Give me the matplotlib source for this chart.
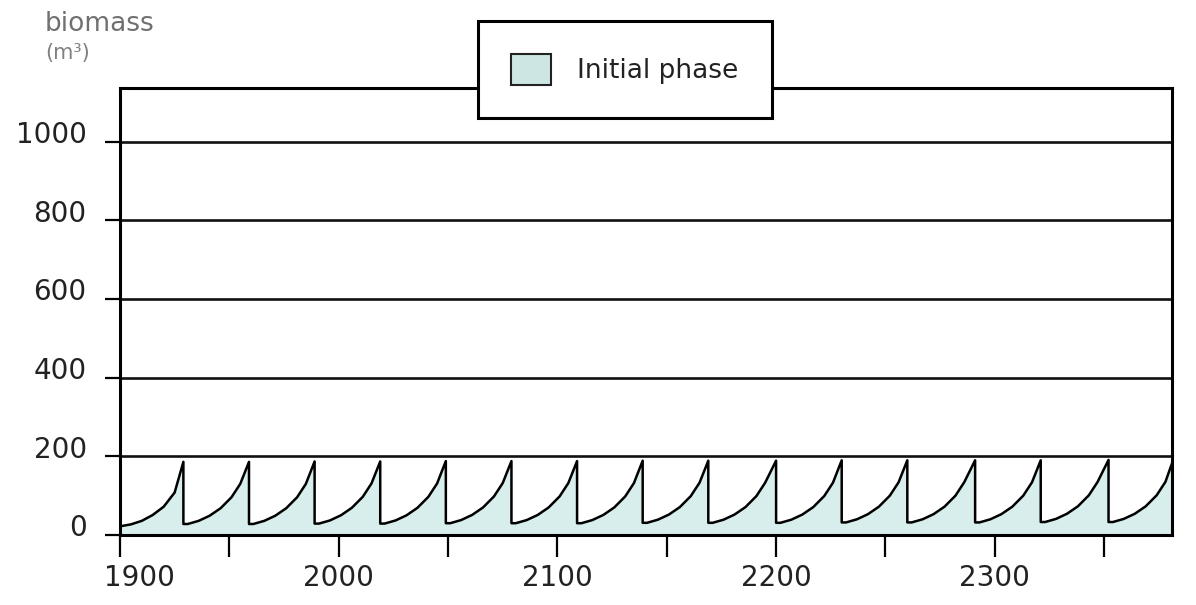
import numpy as np
import matplotlib.pyplot as plt
import matplotlib.transforms as mtransforms
from matplotlib.patches import Patch

# dados (anos e biomassa)--
anos = [1900, 1905, 1910, 1915, 1920, 1925, 1929,
        1929, 1931, 1936, 1941, 1946, 1951, 1955, 1959,
        1959, 1961, 1966, 1971, 1976, 1981, 1985, 1989,
        1989, 1991, 1996, 2001, 2006, 2011, 2015, 2019,
        2019, 2021, 2026, 2031, 2036, 2041, 2045, 2049,
        2049, 2051, 2056, 2061, 2066, 2071, 2075, 2079,
        2079, 2081, 2086, 2091, 2096, 2101, 2105, 2109,
        2109, 2111, 2116, 2121, 2126, 2131, 2135, 2139,
        2139, 2141, 2146, 2151, 2156, 2161, 2165, 2169,
        2169, 2171, 2176, 2181, 2186, 2191, 2195, 2200,
        2200, 2202, 2207, 2212, 2217, 2222, 2226, 2230,
        2230, 2232, 2237, 2242, 2247, 2252, 2256, 2260,
        2260, 2262, 2267, 2272, 2277, 2282, 2286, 2291,
        2291, 2293, 2298, 2303, 2308, 2313, 2317, 2321,
        2321, 2323, 2328, 2333, 2338, 2343, 2347, 2352,
        2352, 2354, 2359, 2364, 2369, 2374, 2378, 2381]

biomassa = [22, 27, 36, 51, 72, 108, 186,
            28, 28, 36, 49, 68, 96, 130, 186,
            28, 28, 36, 49, 68, 96, 130, 187,
            29, 29, 37, 50, 69, 97, 131, 187,
            29, 29, 37, 50, 69, 97, 131, 188,
            30, 30, 38, 51, 70, 98, 132, 188,
            30, 30, 38, 51, 70, 98, 132, 188,
            30, 30, 38, 51, 70, 98, 132, 189,
            31, 31, 39, 52, 71, 99, 133, 189,
            31, 31, 39, 52, 71, 99, 133, 189,
            31, 31, 39, 52, 71, 99, 133, 190,
            32, 32, 40, 53, 72, 100, 134, 190,
            32, 32, 40, 53, 72, 100, 134, 190,
            32, 32, 40, 53, 72, 100, 134, 190,
            33, 33, 41, 54, 73, 101, 135, 191,
            33, 33, 41, 54, 73, 101, 135, 182]

yticks = [0, 200, 400, 600, 800, 1000]
xticks = [1900, 2000, 2100, 2200, 2300]
xminor = [1950, 2050, 2150, 2250, 2350]

corFundo = '#d8eeec'
corTexto = '#222222'

# figura--
fig = plt.figure(figsize=(11.96, 6.05), dpi=100)
ax = fig.add_axes([0.1003, 0.1157, 0.8796, 0.739])

ax.fill_between(anos, biomassa, 0, color=corFundo, linewidth=0)
ax.plot(anos, biomassa, color='black', linewidth=1.8)

# linhas horizontais
for v in yticks[1:]:
    ax.axhline(v, color='#111111', linewidth=1.9, zorder=1)

ax.set_xlim(1900, 2381)
ax.set_ylim(0, 1137)

for s in ax.spines.values():
    s.set_linewidth(2.2)
    s.set_color('black')

ax.set_xticks(xticks)
ax.set_xticks(xminor, minor=True)
ax.set_yticks(yticks)
ax.tick_params(axis='x', which='both', direction='out', length=16, width=1.6,
               labelsize=20, pad=5, labelcolor=corTexto)
ax.tick_params(axis='y', direction='out', length=11, width=1.6,
               labelsize=20, pad=13, labelcolor=corTexto)

# labels do eixo y um pouco acima das marcas (como no original)
desloca = mtransforms.ScaledTranslation(0, 7 / 72, fig.dpi_scale_trans)
for lab in ax.get_yticklabels():
    lab.set_transform(lab.get_transform() + desloca)
desloca1900 = mtransforms.ScaledTranslation(14 / 72, 0, fig.dpi_scale_trans)
primeira = ax.get_xticklabels()[0]
primeira.set_transform(primeira.get_transform() + desloca1900)

# titulo do eixo y
fig.text(45 / 1196, 1 - 24 / 605, 'biomass', fontsize=19, color='#707070',
         ha='left', va='center')
fig.text(45 / 1196, 1 - 53 / 605, '(m³)', fontsize=15, color='#808080',
         ha='left', va='center')

# legenda
caixa = Patch(facecolor='#cde6e4', edgecolor='#222222', linewidth=1.5, label='Initial phase')
leg = fig.legend(handles=[caixa], loc='center', bbox_to_anchor=(0.5226, 0.885),
                 fontsize=19, handlelength=1.5, handleheight=1.4, handletextpad=1.0,
                 borderpad=1.25, fancybox=False, framealpha=1, edgecolor='black')
leg.get_frame().set_linewidth(2.2)
for t in leg.get_texts():
    t.set_color(corTexto)

plt.savefig('out.png', dpi=100)
